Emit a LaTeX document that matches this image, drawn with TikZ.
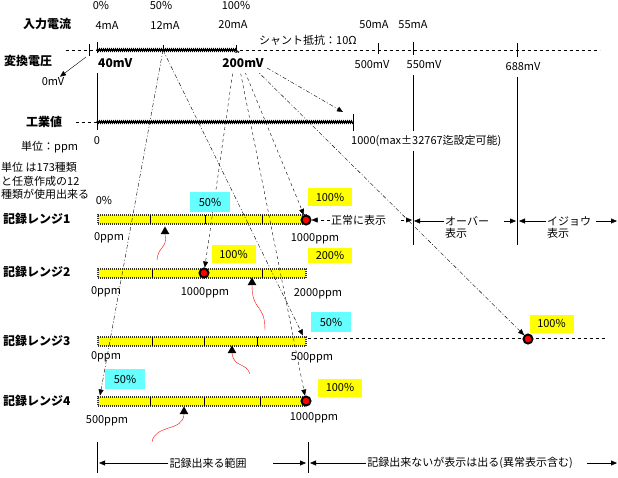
\documentclass[tikz,border=0pt]{standalone}
\usepackage{fontspec}
\setmainfont{Noto Sans CJK JP}
\usetikzlibrary{shapes.geometric, arrows, arrows.meta, decorations.pathmorphing}
\definecolor{tagyellow}{RGB}{255,255,0}
\definecolor{tagcyan}{RGB}{102,255,255}
\newcommand{\txtsize}{\fontsize{11}{13.5}\selectfont}
\newcommand{\headsize}{\fontsize{12}{14}\selectfont}
\tikzstyle{heading} = [font=\headsize\bfseries, anchor=west, inner sep=1pt]
\tikzstyle{plain} = [inner sep=1pt]
\tikzstyle{txt} = [fill=white, inner sep=2pt, minimum height=20pt]
\tikzstyle{rangebar} = [rectangle, minimum width=208pt, minimum height=9pt, inner sep=0pt, fill=tagyellow, draw=black!80, line width=2pt, dash pattern=on 1pt off 1pt]
\tikzstyle{reddot} = [circle, minimum size=9pt, inner sep=0pt, fill=red, draw=black, line width=2pt]
\tikzstyle{marker} = [regular polygon, regular polygon sides=3, minimum size=10pt, inner sep=0pt, fill=black]
\tikzstyle{ytag} = [fill=tagyellow, minimum width=44pt, minimum height=18pt, inner sep=1pt]
\tikzstyle{ctag} = [fill=tagcyan, minimum width=40pt, minimum height=20pt, inner sep=1pt]
\tikzstyle{wavy} = [line width=1.3pt, decorate, decoration={zigzag, segment length=2pt, amplitude=1pt}]
\tikzstyle{squiggle} = [red, thin]
\tikzstyle{arrow} = [-{Triangle[length=6pt,width=5pt]}]
\tikzstyle{dasharrow} = [arrow, dashed]
\tikzstyle{chainarrow} = [arrow, dash pattern=on 4pt off 2pt on 1pt off 2pt]

\begin{document}
\begin{tikzpicture}[x=1pt, y=-1pt, font=\txtsize]
\useasboundingbox (0,0) rectangle (618,477);

% scales
\draw [dashed] (66,50) -- (600,50);
\draw [dashed] (76,122) -- (97,122);
\draw (89,44) -- (89,56);
\draw (97,42) -- (97,130);
\draw (163,45) -- (163,51);
\draw (236,45) -- (236,51);
\draw (378,43) -- (378,54);
\draw (413,42) -- (413,245);
\draw (517,43) -- (517,245);
\draw (353,114) -- (353,132);
\draw [wavy] (97,50) -- (236,50);
\draw [wavy] (97,122) -- (353,122);
\draw [dashed] (308,338) -- (606,338);
\draw (97,442) -- (97,473);
\draw (308,442) -- (308,473);

\coordinate (ma0) at (86,57);
\coordinate (ma12) at (163,50);
\coordinate (ma20) at (236,50);
\coordinate (iv1000) at (343,112);

% recording ranges
\node (bar1) [rangebar] at (202,219.5) {};
\node (bar2) [rangebar] at (202,273.5) {};
\node (bar3) [rangebar] at (202,341) {};
\node (bar4) [rangebar] at (202,401) {};
\draw (150,215) -- (150,224) (205,215) -- (205,224) (262,215) -- (262,224);
\draw (152,269) -- (152,278) (262,269) -- (262,278);
\draw (152,336.5) -- (152,345.5) (204,336.5) -- (204,345.5) (257,336.5) -- (257,345.5);
\draw (150,396.5) -- (150,405.5) (204,396.5) -- (204,405.5) (260,396.5) -- (260,405.5);

\node (dot1) [reddot] at (306,220) {};
\node (dot2) [reddot] at (204,273) {};
\node (dot3) [reddot] at (528,339) {};
\node (dot4) [reddot] at (306,401) {};

\node (ptr1) [marker] at (165,231.5) {};
\node (ptr2) [marker] at (252,282.5) {};
\node (ptr3) [marker] at (232,350.5) {};
\node (ptr4) [marker] at (184,411.5) {};
\draw [squiggle] (ptr1.south) .. controls (168,248) and (158,246) .. (157,260);
\draw [squiggle] (ptr2.south) .. controls (252,312) and (265,303) .. (265,330);
\draw [squiggle] (ptr3.south) .. controls (234,368) and (246,362) .. (250,374);
\draw [squiggle] (ptr4.south) .. controls (183,432) and (155,424) .. (152,442);

% mapping lines
\draw [chainarrow] (ma12) -- ([xshift=3pt]bar4.north west);
\draw [chainarrow] (ma12) -- ([xshift=-4pt]bar3.north east);
\draw [dasharrow] (ma20) -- (dot2);
\draw [dasharrow] (ma20) -- (dot4);
\draw [dasharrow] (ma20) -- (dot1);
\draw [chainarrow] (ma20) -- (dot3);
\draw [chainarrow] (ma20) -- (iv1000);

% top labels
\node (pct0) [plain] at (101,5) {0\%};
\node (pct50) [plain] at (161,5) {50\%};
\node (pct100) [plain] at (236,5) {100\%};
\node (inlbl) [heading] at (22,24) {入力電流};
\node (ma4t) [plain] at (107,25) {4mA};
\node (ma12t) [plain] at (165,25) {12mA};
\node (ma20t) [plain] at (233,25) {20mA};
\node (ma50t) [plain] at (374,25) {50mA};
\node (ma55t) [plain] at (413,25) {55mA};
\node (shunt) [plain, anchor=west] at (258,40) {シャント抵抗：10Ω};
\node (vlbl) [heading] at (3,61) {変換電圧};
\node (mv40) [txt, font=\headsize\bfseries, anchor=west] at (96,63) {40mV};
\node (mv200) [txt, font=\headsize\bfseries] at (243,63) {200mV};
\node (mv500) [txt] at (372,65) {500mV};
\node (mv550) [txt] at (424,65) {550mV};
\node (mv688) [txt] at (523,67) {688mV};
\node (zmv) [plain] at (53,82) {0mV};
\draw [arrow] (ma0) -- (zmv);

\node (ivlbl) [heading] at (25,122) {工業値};
\node (iv0) [plain] at (97,141) {0};
\node (ivmax) [txt, anchor=west] at (349,141) {1000(max±32767迄設定可能)};
\node (unit) [plain, anchor=west] at (20,147) {単位：ppm};
\node (unitnote) [plain, anchor=west, align=left] at (0,181) {単位 は173種類\\と任意作成の12\\種類が使用出来る};
\node (pct0b) [plain] at (104,200) {0\%};

% range labels
\node (rng1) [heading] at (2,219) {記録レンジ1};
\node (rng2) [heading] at (2,272) {記録レンジ2};
\node (rng3) [heading] at (2,341) {記録レンジ3};
\node (rng4) [heading] at (2,401) {記録レンジ4};

\node (tag1a) [ctag] at (210,202) {50\%};
\node (tag1b) [ytag] at (330,197) {100\%};
\node (tag2a) [ytag] at (233.5,254) {100\%};
\node (tag2b) [ytag, minimum height=15pt] at (330,255.5) {200\%};
\node (tag3a) [ctag] at (331,322) {50\%};
\node (tag3b) [ytag] at (551.5,323.5) {100\%};
\node (tag4a) [ctag] at (125,379) {50\%};
\node (tag4b) [ytag] at (340,387.5) {100\%};

\node (r1lo) [plain] at (109,238) {0ppm};
\node (r1hi) [plain] at (315,239) {1000ppm};
\node (r2lo) [plain] at (106,292) {0ppm};
\node (r2mid) [plain] at (205,293) {1000ppm};
\node (r2hi) [plain] at (318,294) {2000ppm};
\node (r3lo) [plain] at (106,357) {0ppm};
\node (r3hi) [plain] at (312,358) {500ppm};
\node (r4lo) [plain] at (107,421) {500ppm};
\node (r4hi) [plain] at (314,418) {1000ppm};

% display zones
\coordinate (lim1a) at (412,220);
\coordinate (lim1b) at (414,221);
\coordinate (lim2a) at (516,221);
\coordinate (lim2b) at (519,221);
\coordinate (rim) at (617,221);
\node (normal) [plain, anchor=west] at (330,220) {正常に表示};
\draw [dasharrow] (normal) -- (dot1);
\draw [dasharrow, shorten <=14pt] (normal) -- (lim1a);
\node (over) [plain, anchor=west] at (444,221) {オーバー};
\node (overb) [plain, anchor=north west] at (over.south west) {表示};
\draw [arrow] (over) -- (lim1b);
\draw [arrow, shorten <=14pt] (over) -- (lim2a);
\node (err) [plain, anchor=west] at (546,221) {イジョウ};
\node (errb) [plain, anchor=north west] at (err.south west) {表示};
\draw [arrow] (err) -- (lim2b);
\draw [arrow, shorten <=4pt] (err) -- (rim);

% bottom spans
\coordinate (okl) at (99,463);
\coordinate (okr0) at (273,463);
\coordinate (okr) at (306,463);
\coordinate (ngl) at (310,463);
\coordinate (ngr0) at (587,463);
\coordinate (ngr) at (617,463);
\node (okspan) [plain] at (208,463) {記録出来る範囲};
\node (ngspan) [plain] at (470,463) {記録出来ないが表示は出る(異常表示含む)};
\draw [arrow] (okspan) -- (okl);
\draw [arrow] (okr0) -- (okr);
\draw [arrow] (ngspan) -- (ngl);
\draw [arrow] (ngr0) -- (ngr);
\end{tikzpicture}
\end{document}
